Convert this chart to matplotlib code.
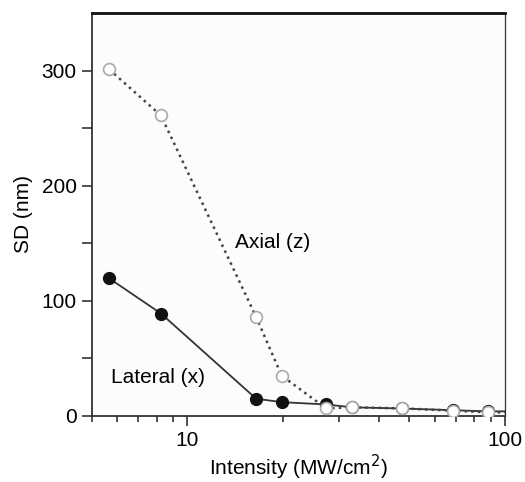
import matplotlib
matplotlib.use("Agg")
import matplotlib.pyplot as plt
from matplotlib.ticker import LogLocator, NullFormatter, FixedLocator

plt.rcParams['font.family'] = ['Liberation Sans', 'DejaVu Sans']

# Intensity (MW/cm^2) and standard deviation (nm)
intensity = [5.67, 8.25, 16.45, 19.8, 27.3, 33.0, 47.4, 68.8, 88.1, 110]
lateral_x = [119.5, 89, 15, 12, 10, 7.5, 6.5, 5, 4, 4]
axial_z = [301, 261, 86, 35, 6.6, 7.5, 6.6, 4.6, 3.2, 3.0]

fig = plt.figure(figsize=(5.25, 4.82), dpi=100)
ax = fig.add_axes([0.175, 0.137, 0.787, 0.836])
ax.set_facecolor('#fcfcfc')

# Lateral: solid line, filled dots
ax.plot(intensity, lateral_x, '-', color='#333333', lw=1.3,
        marker='o', ms=8.5, mfc='#111111', mec='#111111', zorder=3)
# Axial: dotted line, open circles
ax.plot(intensity, axial_z, ':', color='#444444', lw=1.8,
        marker='o', ms=8.5, mfc='white', mec='#aaaaaa', mew=1.2, zorder=4)

ax.set_xscale('log')
ax.set_xlim(5, 100)
ax.set_ylim(0, 350)

ax.xaxis.set_major_locator(FixedLocator([10, 100]))
ax.xaxis.set_minor_locator(LogLocator(base=10, subs=range(2, 10)))
ax.xaxis.set_minor_formatter(NullFormatter())
ax.set_xticklabels(['10', '100'])
ax.yaxis.set_major_locator(FixedLocator([0, 100, 200, 300]))
ax.yaxis.set_minor_locator(FixedLocator([50, 150, 250]))

ax.tick_params(axis='both', which='both', direction='out', color='#333333',
               labelsize=15, width=1.2)
ax.tick_params(axis='y', which='both', length=7, pad=4)
ax.tick_params(axis='x', which='major', length=7, pad=4)
ax.tick_params(axis='x', which='minor', length=4)

for side in ['left', 'bottom', 'right']:
    ax.spines[side].set_color('#333333')
    ax.spines[side].set_linewidth(1.3)
ax.spines['top'].set_color('#111111')
ax.spines['top'].set_linewidth(2)
ax.spines['right'].set_linewidth(0.9)

ax.set_xlabel('Intensity (MW/cm$^2$)', fontsize=15, labelpad=2)
ax.set_ylabel('SD (nm)', fontsize=15, labelpad=6)

ax.text(14.1, 151, 'Axial (z)', fontsize=15, va='center', ha='left')
ax.text(5.75, 33, 'Lateral (x)', fontsize=15, va='center', ha='left')

fig.savefig('out.png', dpi=100)
